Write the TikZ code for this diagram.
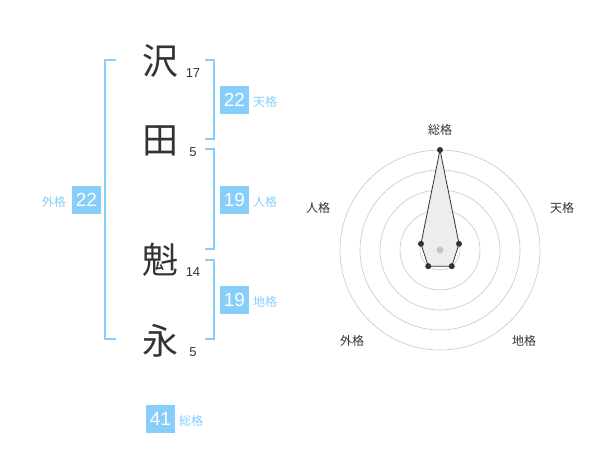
\documentclass[tikz,border=0pt]{standalone}
\usepackage{fontspec}
\setmainfont{Liberation Sans}
\newfontfamily\jpfont{Noto Sans CJK JP}
\usetikzlibrary{calc}
\definecolor{kaku}{RGB}{135,206,250}
\definecolor{sumi}{RGB}{51,51,51}

\begin{document}
\begin{tikzpicture}[x=1pt,y=-1pt,
    kanji/.style={font=\jpfont\fontsize{36}{36}\selectfont,text=sumi,inner sep=0pt},
    kakusu/.style={font=\fontsize{13}{13}\selectfont,text=sumi,inner sep=0pt},
    kakubox/.style={fill=kaku,text=white,minimum width=29pt,minimum height=28pt,inner sep=0pt,font=\fontsize{19}{19}\selectfont},
    kakuname/.style={font=\jpfont\fontsize{12}{12}\selectfont,text=kaku,inner sep=0pt},
    radarname/.style={font=\jpfont\fontsize{12}{12}\selectfont,text=sumi,inner sep=0pt},
    bracket/.style={draw=kaku,line width=1.5pt},
    ring/.style={draw=black!22,line width=0.6pt},
    dot/.style={circle,fill=sumi,inner sep=0pt,minimum size=6pt}]
    \useasboundingbox (0,0) rectangle (600,470);
    % name characters and stroke counts
    \node[kanji] (k1) at (160,61) {沢};
    \node[kanji] (k2) at (160,141) {田};
    \node[kanji] (k3) at (160,260) {魁};
    \node[kanji] (k4) at (160,341) {永};
    \node[kakusu] (s1) at (193,73) {17};
    \node[kakusu] (s2) at (193,152) {5};
    \node[kakusu] (s3) at (193,272) {14};
    \node[kakusu] (s4) at (193,352) {5};
    % brackets
    \coordinate (ga) at (116,60); \coordinate (gb) at (105,60);
    \coordinate (gc) at (105,339); \coordinate (gd) at (116,339);
    \draw[bracket] (ga) -- (gb) -- (gc) -- (gd);
    \coordinate (ta) at (205,60); \coordinate (tb) at (214,60);
    \coordinate (tc) at (214,139); \coordinate (td) at (205,139);
    \draw[bracket] (ta) -- (tb) -- (tc) -- (td);
    \coordinate (ja) at (205,149); \coordinate (jb) at (214,149);
    \coordinate (jc) at (214,249); \coordinate (jd) at (205,249);
    \draw[bracket] (ja) -- (jb) -- (jc) -- (jd);
    \coordinate (ca) at (205,260); \coordinate (cb) at (214,260);
    \coordinate (cc) at (214,339); \coordinate (cd) at (205,339);
    \draw[bracket] (ca) -- (cb) -- (cc) -- (cd);
    % scores
    \node[kakubox] (ten) at (234.5,100) {22};
    \node[kakuname,anchor=west] (tenn) at (253,102) {天格};
    \node[kakubox] (jin) at (234.5,200) {19};
    \node[kakuname,anchor=west] (jinn) at (253,202) {人格};
    \node[kakubox] (chi) at (234.5,300) {19};
    \node[kakuname,anchor=west] (chin) at (253,302) {地格};
    \node[kakubox] (gai) at (86.5,200) {22};
    \node[kakuname,anchor=east] (gain) at (66,202) {外格};
    \node[kakubox] (sou) at (160.5,419) {41};
    \node[kakuname,anchor=west] (soun) at (179,421) {総格};
    % radar
    \coordinate (c) at (440,250);
    \foreach \r in {20,40,60,80,100}
        \draw[ring] (c) circle (\r pt);
    \coordinate (p1) at ([shift={(90:100pt)}]c);
    \coordinate (p2) at ([shift={(18:20pt)}]c);
    \coordinate (p3) at ([shift={(-54:20pt)}]c);
    \coordinate (p4) at ([shift={(-126:20pt)}]c);
    \coordinate (p5) at ([shift={(162:20pt)}]c);
    \draw[sumi,fill=black!7,line width=0.8pt] (p1) -- (p2) -- (p3) -- (p4) -- (p5) -- cycle;
    \node[circle,fill=black!22,inner sep=0pt,minimum size=7pt] (cdot) at (c) {};
    \foreach \p in {p1,p2,p3,p4,p5}
        \node[dot] (d\p) at (\p) {};
    \node[radarname] (r1) at (440,130) {総格};
    \node[radarname] (r2) at (562,208) {天格};
    \node[radarname] (r3) at (524,341) {地格};
    \node[radarname] (r4) at (352,341) {外格};
    \node[radarname] (r5) at (318,208) {人格};
\end{tikzpicture}
\end{document}
